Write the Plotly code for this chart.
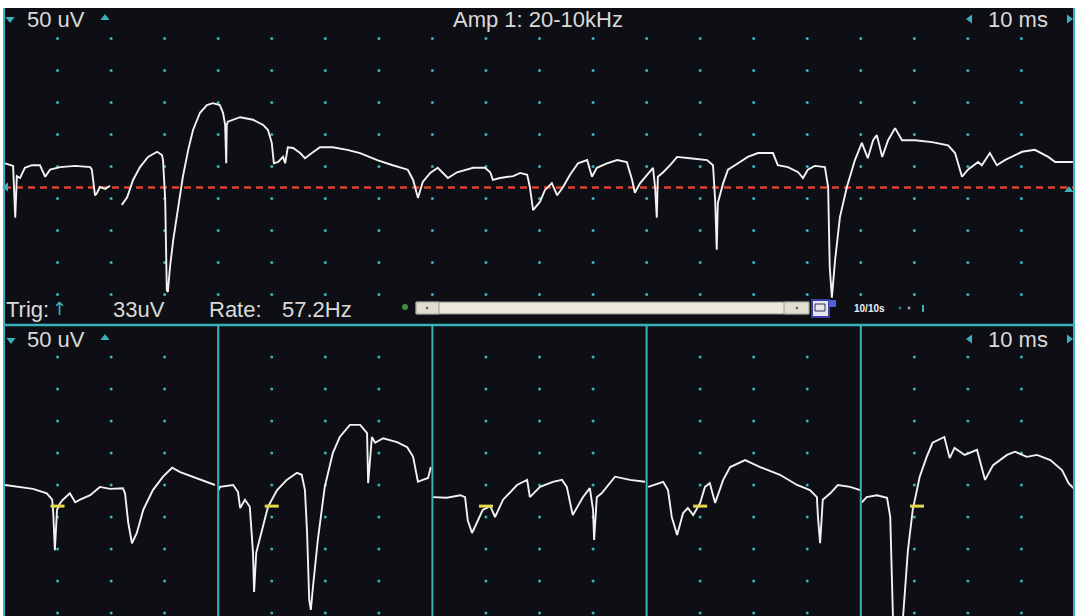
import plotly.graph_objects as go

W, H = 1075, 616

# ---------------- data ----------------
MS_PER_DIV = 10
UV_PER_DIV = 50
SWEEP_MS = 40
TRIG_UV = -33

# free-running display (upper window): time [ms], amplitude [uV]; None = gap between sweeps
top_t = [0.2, 1.1, 1.7, 2.1, 2.4, 3.0, 3.9, 5.2, 6.7, 7.7, 8.6, 10.5, 13.3, 16.1, 16.4, 17.0, 17.4, 17.9, 18.9, 19.8,
         None,
         22.0, 23.0, 24.1, 25.4, 26.9, 28.6, 29.5, 29.7, 30.1, 30.4, 30.6, 31.0, 31.6, 32.5, 33.4, 34.4, 35.3, 36.6,
         37.9, 39.0, 40.3, 40.9, 41.3, 41.5, 41.6, 41.8, 42.8, 44.1, 46.5, 48.4, 49.3, 50.0, 50.4, 51.2, 52.1, 52.5,
         53.0, 54.0, 55.3, 56.2, 57.5, 59.0, 61.4, 64.1, 66.5, 69.7, 72.6, 75.4, 76.4, 77.3, 78.2, 79.6, 81.0, 82.9,
         84.6, 87.6, 89.8, 90.8, 91.3, 92.6, 95.1, 96.4, 97.7, 98.2, 98.8, 100.1, 101.0, 102.3, 103.3, 104.4, 105.7,
         107.2, 108.9, 109.8, 110.7, 112.6, 114.5, 116.3, 117.3, 117.8, 118.8, 120.6, 121.2, 121.6, 121.9, 122.1,
         123.1, 124.4, 125.7, 128.1, 131.3, 132.4, 132.8, 133.1, 133.3, 134.3, 135.2, 136.5, 138.9, 140.8, 143.6,
         144.5, 146.4, 148.3, 149.2, 150.1, 151.4, 153.3, 153.9, 154.2, 154.6, 155.2, 156.1, 157.4, 158.9, 160.2,
         161.3, 162.3, 163.0, 164.0, 165.1, 166.4, 167.7, 170.1, 173.3, 176.3, 177.6, 178.9, 180.0, 181.9, 182.6,
         184.1, 185.4, 186.9, 190.1, 192.5, 195.0, 196.3, 199.6]
top_uv = [5, 2, 1, -80, -15, -18, -2, 2, 2, -16, -5, -1, 1, -1, -5, -45, -41, -32, -35, -30,
          None,
          -60, -48, -21, -1, 15, 23, 18, 10, -52, -193, -196, -157, -115, -68, -16, 26, 57, 84,
          96, 99, 96, 84, 65, 5, 65, 70, 73, 77, 73, 65, 57, 37, 5, 7, 15, 5,
          30, 29, 21, 13, 21, 30, 30, 26, 21, 10, 2, -5, -21, -49, -24, -10, -2, -18,
          -9, -2, -2, -9, -21, -18, -15, -10, -13, -32, -68, -55, -37, -26, -45, -32, -13,
          5, 10, -16, -2, 5, 10, 7, -21, -41, -26, -9, -2, -34, -80, -16,
          -9, 2, 15, 13, 10, 2, -52, -130, -57, -26, -5, 2, 15, 21, 21,
          2, -1, -9, -18, -5, 1, -1, -32, -157, -205, -146, -79, -32, 10, 37,
          13, 41, 49, 15, 41, 60, 41, 41, 38, 33, 21, -16, -5, 7, 2,
          21, 2, 10, 23, 26, 15, 7, 7]

# triggered sweeps (lower window): time from sweep start [ms], amplitude [uV]
sweep_t = [
    [0.2, 2.4, 5.4, 8.0, 9.0, 9.2, 9.5, 9.9, 10.5, 11.0, 12.3, 13.3, 14.2, 16.1, 17.9, 19.8, 22.2, 22.6, 23.2,
     23.9, 24.8, 26.0, 27.8, 29.7, 31.4, 32.9, 35.3, 37.9, 39.4],
    [0.1, 0.3, 2.8, 3.7, 4.1, 5.0, 5.9, 6.5, 6.7, 7.1, 8.2, 9.3, 11.0, 12.8, 14.7, 15.6, 16.2, 16.6, 17.0, 17.3,
     17.7, 18.6, 19.9, 21.4, 22.7, 24.6, 26.5, 27.8, 28.0, 28.7, 29.3, 30.8, 33.4, 35.3, 36.4, 37.3, 38.2, 39.2,
     39.7],
    [0.1, 2.7, 5.2, 6.1, 6.6, 7.4, 8.3, 9.4, 10.8, 11.7, 13.2, 15.8, 17.7, 18.2, 20.1, 22.5, 24.2, 25.1, 26.2,
     28.1, 29.4, 30.0, 30.2, 30.7, 31.6, 34.1, 36.9, 39.7],
    [0.3, 3.1, 4.0, 4.7, 5.7, 6.8, 7.7, 8.7, 10.0, 10.9, 11.8, 12.8, 14.3, 15.6, 18.4, 21.2, 24.9, 28.1, 30.5,
     31.8, 32.0, 32.4, 32.9, 34.3, 35.7, 38.0, 39.9],
    [0.2, 1.1, 3.0, 4.9, 5.5, 5.8, 6.0, 7.0, 7.9, 8.8, 9.7, 11.0, 12.3, 13.4, 15.6, 16.6, 17.5, 19.4, 21.7,
     23.2, 24.7, 27.3, 28.8, 31.0, 32.9, 35.4, 37.6, 38.8, 39.7],
]
sweep_uv = [
    [0, -3, -6, -13, -23, -44, -102, -39, -28, -23, -13, -27, -23, -16, -3, -6, -5, -13, -59,
     -91, -75, -39, -8, 13, 27, 20, 13, 5, 0],
    [-8, -3, 0, -11, -36, -23, -34, -106, -167, -106, -70, -34, -8, 8, 19, 16, -8, -75, -180, -195,
     -159, -86, -3, 50, 75, 94, 94, 81, 3, 75, 66, 73, 67, 59, 44, 5, 8, 11,
     28],
    [-19, -20, -16, -19, -55, -75, -59, -39, -33, -50, -23, 0, 8, -19, -3, 5, 8, -3, -47,
     -19, -5, -39, -86, -19, -13, 13, 8, 5],
    [-3, 5, -8, -50, -78, -44, -36, -47, -28, -3, 3, -28, 8, 28, 39, 28, 16, 0, -8,
     -19, -50, -91, -23, -13, 0, -3, -8],
    [-27, -19, -16, -20, -50, -128, -205, -258, -205, -102, -39, 13, 44, 66, 75, 42, 58, 47, 55,
     8, 31, 47, 52, 44, 47, 39, 23, 3, -5],
]
sweep_trig_t = [10.0, 10.0, 10.0, 10.0, 10.5]

# ---------------- styling ----------------
BG = "#0e0f14"
TEAL = "#3ab2ba"
TRACE = "#f2f2f2"
TEXT = "#dadada"
FONT = "Liberation Sans, Arial, sans-serif"


def fx(px):
    return px / W


def fy(py):
    return 1 - py / H


# screen layout of the two windows (pixels)
X_LEFT = 4
TOP_Y0, SPLIT_Y = 8, 325
PX_PER_UV = 32 / UV_PER_DIV
TOP_MID = 166.5
BOT_MID = 485

top_half = (SPLIT_Y - TOP_MID) / PX_PER_UV
bot_hi = (BOT_MID - SPLIT_Y) / PX_PER_UV
bot_lo = -(H - BOT_MID) / PX_PER_UV
t_max = 20 * MS_PER_DIV

fig = go.Figure()

# dotted graticule
gx, gy = [], []
for k in range(1, 20):
    for j in range(-4, 5):
        gx.append(k * MS_PER_DIV)
        gy.append(j * UV_PER_DIV)
fig.add_trace(go.Scatter(x=gx, y=gy, mode="markers", xaxis="x", yaxis="y",
                         marker=dict(color=TEAL, size=3, line_width=0), hoverinfo="skip"))
gx2 = [x for x, y in zip(gx, gy) if x % SWEEP_MS != 0]
gy2 = [y for x, y in zip(gx, gy) if x % SWEEP_MS != 0]
fig.add_trace(go.Scatter(x=gx2, y=gy2, mode="markers", xaxis="x2", yaxis="y2",
                         marker=dict(color=TEAL, size=3, line_width=0), hoverinfo="skip"))

# continuous trace
fig.add_trace(go.Scatter(x=top_t, y=top_uv, mode="lines", xaxis="x", yaxis="y",
                         line=dict(color=TRACE, width=1.9), connectgaps=False))

# triggered sweeps, laid side by side
for i, (ts, vs) in enumerate(zip(sweep_t, sweep_uv)):
    fig.add_trace(go.Scatter(x=[t + i * SWEEP_MS for t in ts], y=vs, mode="lines",
                             xaxis="x2", yaxis="y2", line=dict(color=TRACE, width=1.9)))

# trigger markers on each sweep
fig.add_trace(go.Scatter(x=[t + i * SWEEP_MS for i, t in enumerate(sweep_trig_t)],
                         y=[TRIG_UV] * len(sweep_trig_t), mode="markers", xaxis="x2", yaxis="y2",
                         marker=dict(symbol="line-ew", size=10, color="#e6d84a",
                                     line=dict(color="#e6d84a", width=3))))

# small teal arrows of the display controls
tri = [
    (10, 19, "triangle-down"), (105, 18, "triangle-up"),
    (970, 19, "triangle-left"), (1069, 19, "triangle-right"),
    (11, 340, "triangle-down"), (105, 338, "triangle-up"),
    (970, 339, "triangle-left"), (1069, 339, "triangle-right"),
    (6, 187, "triangle-left"), (1069, 190, "triangle-up"),
]
fig.add_trace(go.Scatter(x=[a[0] for a in tri], y=[a[1] for a in tri], mode="markers",
                         xaxis="x3", yaxis="y3",
                         marker=dict(symbol=[a[2] for a in tri], size=8, color=TEAL, line_width=0)))
# green status dot and small dots by the sweep counter
fig.add_trace(go.Scatter(x=[405, 900, 909], y=[307, 308, 308], mode="markers", xaxis="x3", yaxis="y3",
                         marker=dict(size=[6, 3, 3], color=["#5fbf5a", TEAL, "#cfd8e0"], line_width=0)))

shapes = [
    dict(type="rect", xref="paper", yref="paper", x0=fx(X_LEFT), x1=1, y0=0, y1=fy(TOP_Y0),
         fillcolor=BG, line_width=0, layer="below"),
    dict(type="line", xref="paper", yref="y", x0=fx(X_LEFT), x1=1, y0=TRIG_UV, y1=TRIG_UV,
         line=dict(color="#d9432f", width=2.5, dash="7px,5px"), layer="below"),
    # window frames
    dict(type="line", xref="paper", yref="paper", x0=fx(X_LEFT), x1=1, y0=fy(SPLIT_Y), y1=fy(SPLIT_Y),
         line=dict(color=TEAL, width=2.5), layer="above"),
    dict(type="line", xref="paper", yref="paper", x0=fx(X_LEFT), x1=fx(X_LEFT), y0=0, y1=fy(TOP_Y0),
         line=dict(color=TEAL, width=2), layer="above"),
    dict(type="line", xref="paper", yref="paper", x0=fx(1074), x1=fx(1074), y0=0, y1=fy(TOP_Y0),
         line=dict(color=TEAL, width=2), layer="above"),
    # scroll bar
    dict(type="rect", xref="paper", yref="paper", x0=fx(416), x1=fx(809), y0=fy(314), y1=fy(302),
         fillcolor="#eeeadb", line=dict(color="#8c8c86", width=1), layer="above"),
    dict(type="rect", xref="paper", yref="paper", x0=fx(416), x1=fx(439), y0=fy(314), y1=fy(302),
         fillcolor="#e2ded0", line=dict(color="#9a9a94", width=1), layer="above"),
    dict(type="rect", xref="paper", yref="paper", x0=fx(784), x1=fx(809), y0=fy(314), y1=fy(302),
         fillcolor="#e2ded0", line=dict(color="#9a9a94", width=1), layer="above"),
    dict(type="rect", xref="paper", yref="paper", x0=fx(812), x1=fx(829), y0=fy(317), y1=fy(300),
         fillcolor="#e4e6f0", line=dict(color="#3c3ca8", width=2), layer="above"),
    dict(type="rect", xref="paper", yref="paper", x0=fx(815), x1=fx(825), y0=fy(311), y1=fy(304),
         fillcolor="#e4e6f0", line=dict(color="#303048", width=1), layer="above"),
    dict(type="rect", xref="paper", yref="paper", x0=fx(829), x1=fx(836), y0=fy(307), y1=fy(300),
         fillcolor="#5060d8", line_width=0, layer="above"),
    dict(type="line", xref="paper", yref="paper", x0=fx(923), x1=fx(923), y0=fy(312), y1=fy(305),
         line=dict(color=TEAL, width=2), layer="above"),
]
for k in range(1, 5):
    shapes.append(dict(type="line", xref="x2", yref="paper", x0=k * SWEEP_MS, x1=k * SWEEP_MS,
                       y0=0, y1=fy(SPLIT_Y), line=dict(color=TEAL, width=2), layer="above"))
for cx in (427, 797):
    shapes.append(dict(type="circle", xref="paper", yref="paper", x0=fx(cx - 1.2), x1=fx(cx + 1.2),
                       y0=fy(309.2), y1=fy(306.8), fillcolor="#555", line_width=0, layer="above"))


def label(text, x, y, anchor="left", size=22, color=TEXT, family=FONT, bold=False):
    return dict(text=f"<b>{text}</b>" if bold else text, x=fx(x), y=fy(y), xref="paper", yref="paper",
                xanchor=anchor, yanchor="middle", showarrow=False,
                font=dict(family=family, size=size, color=color))


annotations = [
    label("50 uV", 25, 19),
    label("Amp 1: 20-10kHz", 538, 19, anchor="center"),
    label("10 ms", 1050, 19, anchor="right"),
    label("Trig:", 4, 309),
    label("↑", 59, 308, anchor="center", size=18, color=TEAL, family="DejaVu Sans"),
    label(f"{abs(TRIG_UV)}uV", 111, 309),
    label("Rate:", 207, 309),
    label("57.2Hz", 280, 309),
    label("10/10s", 852, 308, size=10, color="#f0f0f0", bold=True),
    label("50 uV", 25, 339),
    label("10 ms", 1050, 339, anchor="right"),
]

hidden = dict(visible=False, showgrid=False, zeroline=False, fixedrange=True)
fig.update_layout(
    width=W, height=H, margin=dict(l=0, r=0, t=0, b=0),
    paper_bgcolor="white", plot_bgcolor="rgba(0,0,0,0)", showlegend=False,
    xaxis=dict(domain=[fx(X_LEFT), 1], range=[0, t_max], anchor="y", **hidden),
    yaxis=dict(domain=[fy(SPLIT_Y), fy(TOP_Y0)], range=[-top_half, top_half], anchor="x", **hidden),
    xaxis2=dict(domain=[fx(X_LEFT), 1], range=[0, t_max], anchor="y2", **hidden),
    yaxis2=dict(domain=[0, fy(SPLIT_Y)], range=[bot_lo, bot_hi], anchor="x2", **hidden),
    xaxis3=dict(domain=[0, 1], range=[0, W], anchor="y3", **hidden),
    yaxis3=dict(domain=[0, 1], range=[H, 0], anchor="x3", **hidden),
    shapes=shapes, annotations=annotations,
)

fig.write_html("out.html")
